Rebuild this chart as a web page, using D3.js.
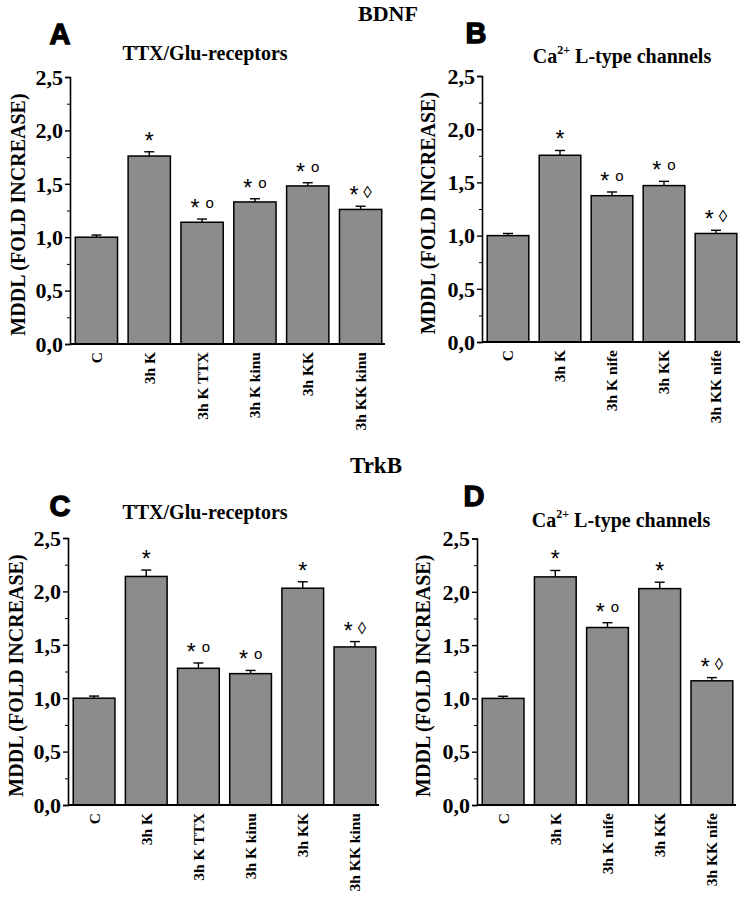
<!DOCTYPE html>
<html>
<head>
<meta charset="utf-8">
<script src="https://cdn.jsdelivr.net/npm/d3@7"></script>
<style>
  body { margin: 0; background: #fff; }
  text { font-family: "Liberation Serif", "Times New Roman", serif; font-weight: bold; }
</style>
</head>
<body>
<div id="canvas"></div>
<script>
const catsTTX = ['C', '3h K', '3h K TTX', '3h K kinu', '3h KK', '3h KK kinu']
const catsCa = ['C', '3h K', '3h K nife', '3h KK', '3h KK nife']

// BDNF
const bdnfTTX = [1.00, 1.76, 1.14, 1.33, 1.48, 1.26]
const bdnfTTXErr = [0.02, 0.04, 0.03, 0.03, 0.03, 0.03]
const bdnfTTXMarks = ['', '*', '* °', '* °', '* °', '* ◊']
const bdnfCa = [1.00, 1.755, 1.375, 1.47, 1.02]
const bdnfCaErr = [0.02, 0.045, 0.035, 0.04, 0.03]
const bdnfCaMarks = ['', '*', '* °', '* °', '* ◊']

// TrkB
const trkbTTX = [1.00, 2.14, 1.28, 1.23, 2.03, 1.48]
const trkbTTXErr = [0.02, 0.06, 0.05, 0.03, 0.06, 0.05]
const trkbTTXMarks = ['', '*', '* °', '* °', '*', '* ◊']
const trkbCa = [1.00, 2.14, 1.665, 2.03, 1.165]
const trkbCaErr = [0.02, 0.06, 0.045, 0.06, 0.03]
const trkbCaMarks = ['', '*', '* °', '*', '* ◊']

const yTicks = [0, 0.5, 1.0, 1.5, 2.0, 2.5]
const yTickLabels = ['0,0', '0,5', '1,0', '1,5', '2,0', '2,5']
const minorTicks = [0.25, 0.75, 1.25, 1.75, 2.25]

const yLabel = 'MDDL (FOLD INCREASE)'

const width = 747
const height = 900

const svg = d3.select('#canvas')
    .append('svg')
        .attr('width', width)
        .attr('height', height)
        .attr('viewBox', [0, 0, width, height])

// section titles
svg.append('text').attr('x', 388).attr('y', 21).attr('text-anchor', 'middle')
    .attr('font-size', '22px').text('BDNF')
svg.append('text').attr('x', 376).attr('y', 473).attr('text-anchor', 'middle')
    .attr('font-size', '23px').text('TrkB')

const panels = [
    { letter: 'A', lx: 60, ly: 44, title: 'ttx', tx: 205, ty: 60,
      x0: 70, x1: 387, y0: 344, yTop: 77, cats: catsTTX, vals: bdnfTTX, errs: bdnfTTXErr, marks: bdnfTTXMarks, labX: 25 },
    { letter: 'B', lx: 476, ly: 43, title: 'ca', tx: 622, ty: 63,
      x0: 482, x1: 742, y0: 342, yTop: 76, cats: catsCa, vals: bdnfCa, errs: bdnfCaErr, marks: bdnfCaMarks, labX: 435 },
    { letter: 'C', lx: 60, ly: 516, title: 'ttx', tx: 205, ty: 519,
      x0: 68, x1: 381, y0: 805, yTop: 538, cats: catsTTX, vals: trkbTTX, errs: trkbTTXErr, marks: trkbTTXMarks, labX: 23 },
    { letter: 'D', lx: 474, ly: 506, title: 'ca', tx: 621, ty: 527,
      x0: 477, x1: 738, y0: 805, yTop: 538.5, cats: catsCa, vals: trkbCa, errs: trkbCaErr, marks: trkbCaMarks, labX: 430 }
]

function drawTitle(p) {
    const t = svg.append('text')
        .attr('x', p.tx)
        .attr('y', p.ty)
        .attr('text-anchor', 'middle')
        .attr('font-size', '20px')
    if (p.title === 'ttx') {
        t.text('TTX/Glu-receptors')
    } else {
        t.append('tspan').text('Ca')
        t.append('tspan').attr('font-size', '12px').attr('dy', -9).text('2+')
        t.append('tspan').attr('dy', 9).text(' L-type channels')
    }
}

function drawPanel(p) {
    const x = d3.scaleBand()
        .domain(p.cats)
        .range([p.x0, p.x1])
        .paddingInner(0.2)
        .paddingOuter(0.1)

    const y = d3.scaleLinear()
        .domain([0, 2.5])
        .range([p.y0, p.yTop])

    const g = svg.append('g')

    // panel letter
    svg.append('text')
        .attr('x', p.lx).attr('y', p.ly)
        .attr('text-anchor', 'middle')
        .attr('font-size', '29px')
        .style('font-family', '"Liberation Sans", Arial, sans-serif')
        .attr('stroke', '#000').attr('stroke-width', 1.3)
        .text(p.letter)

    drawTitle(p)

    // y axis
    const yAxis = d3.axisLeft(y)
        .tickValues(yTicks)
        .tickSize(5)
        .tickFormat((d, i) => yTickLabels[i])
    const ya = g.append('g')
        .attr('transform', `translate(${p.x0}, 0)`)
        .call(yAxis)
    ya.select('.domain').attr('stroke-width', 1.6)
    ya.selectAll('.tick line').attr('stroke-width', 1.4)
    ya.selectAll('.tick text')
        .attr('font-size', '22px')
        .attr('x', -7)
        .attr('dy', '0.33em')
        .style('font-family', '"Liberation Serif", serif')
        .style('font-weight', 'bold')

    g.append('g')
        .attr('transform', `translate(${p.x0}, 0)`)
        .call(d3.axisLeft(y).tickValues(minorTicks).tickSize(3).tickFormat(''))
        .call(a => a.select('.domain').remove())
        .selectAll('.tick line').attr('stroke-width', 1)

    // y label
    svg.append('text')
        .attr('transform', `translate(${p.labX}, ${(p.y0 + p.yTop) / 2 + 4}) rotate(-90)`)
        .attr('text-anchor', 'middle')
        .attr('font-size', '20px')
        .text(yLabel)

    // bars
    g.selectAll('rect.bar')
        .data(p.vals)
        .enter()
        .append('rect')
        .attr('class', 'bar')
        .attr('x', (d, i) => x(p.cats[i]))
        .attr('y', d => y(d))
        .attr('width', x.bandwidth())
        .attr('height', d => p.y0 - y(d))
        .attr('fill', '#8c8c8c')
        .attr('stroke', '#000')
        .attr('stroke-width', 1.5)

    // error bars (upper only)
    const cx = i => x(p.cats[i]) + x.bandwidth() / 2
    g.selectAll('line.err')
        .data(p.vals)
        .enter()
        .append('line')
        .attr('x1', (d, i) => cx(i)).attr('x2', (d, i) => cx(i))
        .attr('y1', d => y(d)).attr('y2', (d, i) => y(d + p.errs[i]))
        .attr('stroke', '#000').attr('stroke-width', 1.4)
    g.selectAll('line.cap')
        .data(p.vals)
        .enter()
        .append('line')
        .attr('x1', (d, i) => cx(i) - 5).attr('x2', (d, i) => cx(i) + 5)
        .attr('y1', (d, i) => y(d + p.errs[i])).attr('y2', (d, i) => y(d + p.errs[i]))
        .attr('stroke', '#000').attr('stroke-width', 1.4)

    // significance marks
    p.marks.forEach((m, i) => {
        if (!m) return
        const t = g.append('text')
            .attr('x', cx(i))
            .attr('y', y(p.vals[i] + p.errs[i]) - 3)
            .attr('text-anchor', 'middle')
            .style('font-family', '"Liberation Sans", Arial, sans-serif')
            .style('font-weight', 'normal')
            .attr('font-size', '23px')
        t.append('tspan').text('*')
        if (m.includes('°')) {
            t.append('tspan').attr('font-size', '15px').attr('dy', -8).attr('dx', 6).text('o')
        } else if (m.includes('◊')) {
            t.append('tspan').attr('font-size', '17px').attr('dy', -5).attr('dx', 5).text('◊')
        }
    })

    // x axis
    g.append('line')
        .attr('x1', p.x0).attr('x2', p.x1 - 2)
        .attr('y1', p.y0).attr('y2', p.y0)
        .attr('stroke', '#000').attr('stroke-width', 2)

    g.selectAll('text.xl')
        .data(p.cats)
        .enter()
        .append('text')
        .attr('transform', d => `translate(${x(d) + x.bandwidth() / 2}, ${p.y0 + 8}) rotate(-90)`)
        .attr('text-anchor', 'end')
        .attr('dy', '0.35em')
        .attr('font-size', '15.5px')
        .text(d => d)
}

panels.forEach(drawPanel)
</script>
</body>
</html>
